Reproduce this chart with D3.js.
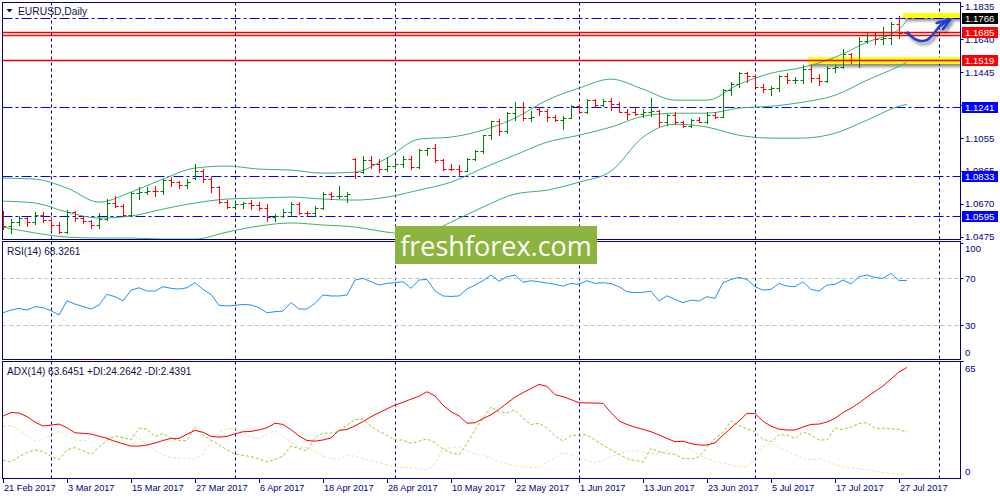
<!DOCTYPE html>
<html><head><meta charset="utf-8">
<script src="https://cdn.jsdelivr.net/npm/d3@7"></script>
<style>body{margin:0;background:#fff}svg{display:block}</style>
</head><body>
<svg id="c" width="1000" height="500"></svg>
<script>
// ---------- DATA ----------
const opens=[1.0615,1.0541,1.0559,1.0586,1.0560,1.0606,1.0575,1.0545,1.0505,1.0620,
1.0583,1.0567,1.0543,1.0582,1.0673,1.0654,1.0603,1.0733,1.0740,1.0745,
1.0742,1.0810,1.0797,1.0782,1.0820,1.0865,1.0815,1.0766,1.0677,1.0651,
1.0667,1.0671,1.0662,1.0645,1.0592,1.0598,1.0619,1.0667,1.0615,1.0612,
1.0644,1.0730,1.0716,1.0717,1.0935,1.0857,1.0929,1.0907,1.0872,1.0895,
1.0903,1.0931,1.0884,1.0985,1.0998,1.0925,1.0876,1.0872,1.0863,1.0933,
1.0982,1.1073,1.1158,1.1100,1.1206,1.1243,1.1176,1.1230,1.1215,1.1180,
1.1163,1.1178,1.1244,1.1213,1.1281,1.1253,1.1278,1.1258,1.1210,1.1210,
1.1198,1.1211,1.1216,1.1150,1.1196,1.1150,1.1131,1.1166,1.1151,1.1195,
1.1183,1.1338,1.1374,1.1442,1.1426,1.1359,1.1346,1.1350,1.1423,1.1400,
1.1402,1.1465,1.1414,1.1397,1.1471,1.1477,1.1556,1.1520,1.1632,1.1665,
1.1641,1.1646,1.1731,1.1678];
const highs=[1.0624,1.0578,1.0600,1.0590,1.0620,1.0618,1.0590,1.0560,1.0630,1.0627,
1.0595,1.0575,1.0615,1.0700,1.0715,1.0670,1.0740,1.0770,1.0770,1.0777,
1.0818,1.0825,1.0805,1.0818,1.0906,1.0875,1.0825,1.0775,1.0690,1.0680,
1.0680,1.0690,1.0680,1.0670,1.0610,1.0640,1.0678,1.0678,1.0625,1.0655,
1.0737,1.0737,1.0777,1.0738,1.0937,1.0950,1.0950,1.0935,1.0945,1.0920,
1.0950,1.0951,1.0990,1.1000,1.1023,1.0935,1.0905,1.0900,1.0940,1.0985,
1.1075,1.1160,1.1170,1.1213,1.1268,1.1268,1.1215,1.1238,1.1230,1.1195,
1.1188,1.1250,1.1255,1.1285,1.1285,1.1285,1.1296,1.1270,1.1230,1.1235,
1.1230,1.1296,1.1225,1.1200,1.1210,1.1160,1.1170,1.1180,1.1210,1.1210,
1.1345,1.1387,1.1445,1.1445,1.1430,1.1375,1.1365,1.1430,1.1440,1.1415,
1.1490,1.1490,1.1435,1.1480,1.1490,1.1583,1.1560,1.1655,1.1680,1.1680,
1.1710,1.1740,1.1777,1.1690];
const lows=[1.0522,1.0494,1.0545,1.0540,1.0550,1.0560,1.0520,1.0494,1.0494,1.0570,
1.0555,1.0525,1.0525,1.0575,1.0650,1.0600,1.0600,1.0700,1.0730,1.0715,
1.0725,1.0776,1.0763,1.0760,1.0815,1.0800,1.0740,1.0673,1.0642,1.0640,
1.0645,1.0640,1.0635,1.0570,1.0570,1.0590,1.0595,1.0610,1.0605,1.0600,
1.0640,1.0700,1.0705,1.0680,1.0822,1.0850,1.0880,1.0855,1.0860,1.0880,
1.0885,1.0875,1.0880,1.0960,1.0918,1.0870,1.0866,1.0838,1.0860,1.0925,
1.0970,1.1050,1.1076,1.1090,1.1166,1.1165,1.1160,1.1194,1.1160,1.1160,
1.1110,1.1175,1.1205,1.1205,1.1240,1.1245,1.1220,1.1210,1.1170,1.1195,
1.1180,1.1185,1.1130,1.1135,1.1140,1.1120,1.1120,1.1150,1.1148,1.1175,
1.1180,1.1314,1.1360,1.1390,1.1357,1.1330,1.1312,1.1335,1.1380,1.1380,
1.1380,1.1390,1.1370,1.1390,1.1450,1.1470,1.1500,1.1478,1.1620,1.1613,
1.1610,1.1610,1.1649,1.1670];
const closes=[1.0541,1.0559,1.0586,1.0560,1.0606,1.0575,1.0545,1.0505,1.0620,1.0583,
1.0567,1.0543,1.0582,1.0673,1.0654,1.0603,1.0733,1.0740,1.0745,1.0742,
1.0810,1.0797,1.0782,1.0797,1.0865,1.0815,1.0766,1.0677,1.0651,1.0667,
1.0671,1.0662,1.0645,1.0592,1.0598,1.0619,1.0667,1.0615,1.0612,1.0644,
1.0730,1.0716,1.0717,1.0725,1.0857,1.0929,1.0907,1.0872,1.0895,1.0903,
1.0931,1.0884,1.0985,1.0998,1.0925,1.0876,1.0872,1.0863,1.0933,1.0982,
1.1073,1.1158,1.1100,1.1206,1.1243,1.1176,1.1184,1.1215,1.1180,1.1163,
1.1178,1.1244,1.1213,1.1281,1.1253,1.1278,1.1258,1.1210,1.1197,1.1198,
1.1211,1.1216,1.1150,1.1196,1.1150,1.1131,1.1166,1.1151,1.1195,1.1183,
1.1338,1.1374,1.1442,1.1426,1.1359,1.1346,1.1350,1.1423,1.1400,1.1402,
1.1465,1.1414,1.1397,1.1471,1.1477,1.1556,1.1520,1.1632,1.1665,1.1641,
1.1646,1.1731,1.1678,1.1684];

// Bollinger bands read at sampled bars
const bbBars=[0,4,8,12,16,20,24,28,32,36,40,44,48,52,56,60,64,68,72,76,80,84,88,92,96,100,104,108,112,113];
const bbUpper=[1.0821,1.0815,1.0762,1.0679,1.0738,1.0815,1.0880,1.0892,1.0874,1.0868,1.0850,1.0856,1.0939,1.1051,1.1063,1.1104,1.1175,1.1281,1.1352,1.1405,1.1346,1.1281,1.1281,1.1375,1.1440,1.1475,1.1534,1.1623,1.1699,1.1752];
const bbMiddle=[1.0685,1.0674,1.0620,1.0585,1.0597,1.0638,1.0674,1.0697,1.0703,1.0709,1.0697,1.0691,1.0709,1.0750,1.0797,1.0880,1.0957,1.1033,1.1074,1.1122,1.1186,1.1204,1.1204,1.1234,1.1245,1.1269,1.1310,1.1399,1.1481,1.1505];
const bbLower=[1.0532,1.0497,1.0473,1.0467,1.0467,1.0461,1.0461,1.0502,1.0538,1.0556,1.0544,1.0532,1.0502,1.0485,1.0561,1.0650,1.0727,1.0750,1.0797,1.0862,1.1063,1.1139,1.1122,1.1074,1.1057,1.1057,1.1086,1.1163,1.1245,1.1257];

const rsi=[40.7,43.0,44.4,43.0,45.9,45.0,42.5,38.8,51.0,48.1,
46.0,43.9,47.3,56.4,54.4,50.7,60.0,62.0,59.2,59.2,
62.9,61.5,60.9,62.0,66.3,60.6,56.4,47.0,46.5,47.0,
47.8,47.3,45.0,40.7,41.6,42.2,49.5,43.9,43.9,48.7,
55.8,55.0,55.0,55.8,68.6,70.0,67.1,64.3,65.7,66.3,
67.1,61.5,68.6,69.1,59.2,55.0,54.6,55.0,61.0,64.3,
68.0,72.8,67.5,71.4,72.8,66.6,68.0,67.1,66.0,64.9,
63.4,65.7,64.9,68.0,65.7,66.3,65.5,62.9,58.6,57.8,
58.1,59.2,50.7,55.2,52.1,49.3,51.5,50.7,54.4,53.0,
66.3,69.1,70.8,69.1,62.9,60.0,60.6,65.7,63.4,62.9,
67.1,60.6,59.2,64.3,64.9,68.6,65.2,71.4,72.8,70.8,
70.0,74.2,68.0,68.3];
const adx=[35.8,37.8,37.5,35.5,32.3,30.1,30.6,31.2,29.1,26.2,
25.9,25.5,24.3,23.0,21.3,19.9,18.6,18.6,19.2,20.4,
21.8,23.0,23.0,25.4,27.6,26.5,24.2,23.7,24.2,25.6,
26.8,27.0,27.9,29.1,31.7,31.0,28.0,24.4,21.8,21.4,
22.1,23.3,27.6,28.1,30.2,32.6,35.4,37.7,39.9,42.1,
43.6,45.5,47.1,49.7,47.3,42.0,38.2,35.9,31.7,31.9,
34.3,36.5,39.6,43.2,46.6,49.2,51.5,53.9,52.8,48.0,
46.9,45.2,43.4,43.3,43.2,43.1,37.8,33.0,31.0,29.4,
28.2,26.8,25.0,23.0,21.1,21.4,20.0,19.2,19.2,20.5,
24.8,29.0,33.0,37.3,37.3,32.8,30.0,28.3,27.8,27.8,
29.5,31.0,31.2,32.4,34.5,37.8,40.3,43.2,46.7,49.9,
53.0,57.0,61.0,63.6];
const plusDI=[10.6,9.5,12.5,15.0,16.4,15.4,12.8,11.0,16.4,17.7,
16.0,13.9,17.9,22.0,24.4,23.5,22.1,28.8,28.4,24.0,
25.9,23.0,21.9,21.7,29.7,24.9,22.0,19.3,16.5,14.0,
13.3,12.6,11.3,9.5,11.0,12.9,18.6,17.3,15.8,23.5,
26.0,26.0,27.0,30.5,33.8,34.0,30.0,27.0,24.9,22.1,
22.1,20.2,21.4,22.7,20.6,17.0,14.7,13.7,20.0,28.0,
34.5,41.0,38.0,37.7,39.2,34.5,31.0,31.6,29.0,24.5,
21.5,24.5,25.0,25.0,22.1,19.2,16.5,13.9,11.5,10.3,
9.5,17.3,15.4,14.3,13.8,11.5,11.2,12.5,18.0,23.0,
26.5,33.0,30.5,28.5,26.8,22.5,21.1,25.0,25.0,23.0,
26.8,25.0,22.1,22.1,29.0,28.0,29.5,31.6,32.0,28.8,
28.8,28.5,28.2,26.5];
const minusDI=[29.7,30.5,27.8,24.5,21.5,22.5,25.0,27.0,24.5,22.1,
21.5,23.0,24.2,24.0,19.0,23.0,26.0,23.0,19.5,16.0,
13.5,12.0,11.8,11.4,11.2,14.0,21.0,26.8,28.5,28.8,
26.5,23.5,22.8,25.5,27.4,24.5,20.5,18.2,17.6,15.5,
13.0,11.5,11.0,13.5,12.8,11.5,10.2,9.0,8.0,6.4,
6.4,6.0,5.4,4.9,8.7,17.3,17.6,18.2,16.0,14.0,
13.5,12.0,9.5,8.5,7.5,6.8,6.4,6.3,9.3,12.0,
14.8,13.8,12.0,10.5,9.0,10.5,12.5,13.9,15.5,16.2,
15.0,14.0,14.5,15.8,14.5,18.6,16.8,13.5,11.5,9.7,
8.8,7.8,7.0,6.3,12.0,18.3,20.2,18.3,15.8,13.5,
11.5,10.6,11.6,9.7,8.0,7.0,6.2,5.7,5.0,4.3,
3.5,3.0,2.5,2.4];

const dateLabelBars=[0,8,16,24,32,40,48,56,64,72,80,88,96,104,112];
const dateLabels=["21 Feb 2017","3 Mar 2017","15 Mar 2017","27 Mar 2017","6 Apr 2017","18 Apr 2017","28 Apr 2017","10 May 2017","22 May 2017","1 Jun 2017","13 Jun 2017","23 Jun 2017","5 Jul 2017","17 Jul 2017","27 Jul 2017"];
const gridBars=[6,29,49,72,94,117];
const priceTicks=[1.1835,1.1640,1.1445,1.1250,1.1055,1.0865,1.0670,1.0475];
const priceTickLabels=["1.1835","1.1640","1.1445","1.1250","1.1055","1.0865","1.0670","1.0475"];
const blueLevels=[1.1766,1.1241,1.0833,1.0595];
const redLevels=[1.1685,1.1667,1.1519];
const redLabelLevels=[1.1685,1.1519];
const rsiTicks=[100,70,30,0];
const rsiLevels=[70,30];
const adxTicks=[65,0];
// highlighted zones [fromBar, priceLow, priceHigh]
const zones=[[112.5,1.1766,1.1795],[100.6,1.1495,1.1534]];
// hand-drawn arrow (bar, price)
const arrowPath=[[113.1,1.1678],[113.8,1.1648],[114.6,1.1631],[115.5,1.1636],[116.3,1.1672],[117.1,1.1718],[118.4,1.1757]];
const arrowHead=[[116.7,1.1737],[118.4,1.1757],[117.5,1.1700]];

// ---------- DRAW ----------
const svg=d3.select('#c');
const NAVY='#000080', FONT="'Liberation Sans',Arial,sans-serif";
const n=closes.length;
const L=2.5,R=960.5;
const P={main:[2.5,239.5],rsi:[241.5,359.5],adx:[361.5,478.5]};
const x=d3.scaleLinear().domain([0,113]).range([3,907]);
const y=d3.scaleLinear().domain([1.0475,1.1835]).range([236.7,6.3]);
const yR=d3.scaleLinear().domain([0,100]).range([360.6,243.1]);
const yA=d3.scaleLinear().domain([0,65]).range([478.6,365]);
const px=v=>Math.round(v)+0.5;

const defs=svg.append('defs');
Object.entries(P).forEach(([k,[t,b]])=>{
  defs.append('clipPath').attr('id','clip-'+k).append('rect').attr('x',L+0.5).attr('y',t+0.5).attr('width',R-L-1).attr('height',b-t-1);
});
const sh=defs.append('filter').attr('id','shadow').attr('x','-20%').attr('y','-50%').attr('width','150%').attr('height','250%');
sh.append('feGaussianBlur').attr('in','SourceAlpha').attr('stdDeviation',1.5).attr('result','b');
sh.append('feOffset').attr('in','b').attr('dx',2).attr('dy',3).attr('result','o');
sh.append('feComponentTransfer').attr('in','o').attr('result','s').append('feFuncA').attr('type','linear').attr('slope',0.45);
const fm=sh.append('feMerge'); fm.append('feMergeNode').attr('in','s'); fm.append('feMergeNode').attr('in','SourceGraphic');

svg.append('rect').attr('width',1000).attr('height',500).attr('fill','#fff');

// vertical grid
Object.values(P).forEach(([t,b])=>{
  svg.append('g').selectAll('line').data(gridBars).join('line')
    .attr('x1',d=>px(x(d))).attr('x2',d=>px(x(d))).attr('y1',t).attr('y2',b)
    .attr('stroke',NAVY).attr('stroke-width',1).attr('stroke-dasharray','3,3');
});

// ---- MAIN PANEL ----
const gM=svg.append('g').attr('clip-path','url(#clip-main)');
// zones (yellow)
zones.forEach(([b0,p0,p1])=>{
  gM.append('rect').attr('x',x(b0)).attr('y',y(p1)).attr('width',R-x(b0)).attr('height',y(p0)-y(p1))
    .attr('fill','#ffff00').attr('filter','url(#shadow)');
});
// blue dash-dot levels
gM.selectAll('.bl').data(blueLevels).join('line')
  .attr('x1',L).attr('x2',R).attr('y1',d=>px(y(d))).attr('y2',d=>px(y(d)))
  .attr('stroke','#0000ff').attr('stroke-width',1).attr('stroke-dasharray','10,3,3,3');
// bollinger
const bbLine=arr=>d3.line().x((d,i)=>x(bbBars[i])).y(d=>y(d)).curve(d3.curveMonotoneX)(arr);
[bbUpper,bbMiddle,bbLower].forEach(a=>gM.append('path').attr('d',bbLine(a)).attr('fill','none').attr('stroke','#3cb371').attr('stroke-width',1));
// bars
const gB=gM.append('g');
d3.range(n).forEach(i=>{
  const c=closes[i]>=opens[i]?'#008000':'#ff0000';
  const xi=px(x(i));
  gB.append('line').attr('x1',xi).attr('x2',xi).attr('y1',Math.round(y(highs[i]))).attr('y2',Math.round(y(lows[i]))+1).attr('stroke',c);
  gB.append('line').attr('x1',xi-3).attr('x2',xi).attr('y1',px(y(opens[i]))).attr('y2',px(y(opens[i]))).attr('stroke',c);
  gB.append('line').attr('x1',xi).attr('x2',xi+3).attr('y1',px(y(closes[i]))).attr('y2',px(y(closes[i]))).attr('stroke',c);
});
// red levels
gM.selectAll('.rl').data(redLevels).join('line')
  .attr('x1',L).attr('x2',R).attr('y1',d=>px(y(d))).attr('y2',d=>px(y(d)))
  .attr('stroke','#ff0000').attr('stroke-width',1.3);
// arrow
const al=d3.line().x(d=>x(d[0])).y(d=>y(d[1]));
const ga=svg.append('g').attr('filter','url(#shadow)');
ga.append('path').attr('d',al.curve(d3.curveCatmullRom)(arrowPath)).attr('fill','none').attr('stroke','#1f3fd8').attr('stroke-width',2.6).attr('stroke-linecap','round');
ga.append('path').attr('d',d3.line().x(d=>x(d[0])).y(d=>y(d[1]))(arrowHead)).attr('fill','none').attr('stroke','#1f3fd8').attr('stroke-width',2.6).attr('stroke-linecap','round').attr('stroke-linejoin','round');

// title
svg.append('path').attr('d','M6.5,9 L12.5,9 L9.5,12.5 Z').attr('fill',NAVY);
svg.append('text').attr('x',18).attr('y',14.5).text('EURUSD,Daily').attr('font-family',FONT).attr('font-size',10.3).attr('fill','#10104a');

// ---- RSI PANEL ----
const gR=svg.append('g').attr('clip-path','url(#clip-rsi)');
gR.selectAll('line').data(rsiLevels).join('line').attr('x1',L).attr('x2',R)
  .attr('y1',d=>px(yR(d))).attr('y2',d=>px(yR(d))).attr('stroke','#c0c0c0').attr('stroke-dasharray','4,3');
gR.append('path').attr('d',d3.line().x((d,i)=>x(i)).y(d=>yR(d))(rsi)).attr('fill','none').attr('stroke','#1e90ff').attr('stroke-width',1);
svg.append('text').attr('x',7).attr('y',255).text('RSI(14) 68.3261').attr('font-family',FONT).attr('font-size',10).attr('fill','#10104a');

// ---- ADX PANEL ----
const gA=svg.append('g').attr('clip-path','url(#clip-adx)');
gA.append('path').attr('d',d3.line().x((d,i)=>x(i)).y(d=>yA(d))(minusDI)).attr('fill','none').attr('stroke','#f5deb3').attr('stroke-width',1).attr('stroke-dasharray','3,2');
gA.append('path').attr('d',d3.line().x((d,i)=>x(i)).y(d=>yA(d))(plusDI)).attr('fill','none').attr('stroke','#9acd32').attr('stroke-width',1).attr('stroke-dasharray','3,2');
gA.append('path').attr('d',d3.line().x((d,i)=>x(i)).y(d=>yA(d))(adx)).attr('fill','none').attr('stroke','#ff0000').attr('stroke-width',1);
svg.append('text').attr('x',7).attr('y',375).text('ADX(14) 63.6451 +DI:24.2642 -DI:2.4391').attr('font-family',FONT).attr('font-size',10).attr('fill','#10104a');

// frames
Object.values(P).forEach(([t,b])=>{
  svg.append('rect').attr('x',L).attr('y',t).attr('width',R-L).attr('height',b-t).attr('fill','none').attr('stroke',NAVY);
});

// price axis
const gPA=svg.append('g').attr('font-family',FONT).attr('font-size',9.6).attr('fill',NAVY);
priceTicks.forEach((v,i)=>{
  gPA.append('line').attr('x1',R).attr('x2',R+3).attr('y1',px(y(v))).attr('y2',px(y(v))).attr('stroke',NAVY);
  gPA.append('text').attr('x',965).attr('y',y(v)+3.4).text(priceTickLabels[i]);
});
// sub axes
const clampY=(v,t,b)=>Math.max(t+7,Math.min(b-7,v));
rsiTicks.forEach(v=>{
  gPA.append('line').attr('x1',R).attr('x2',R+3).attr('y1',px(yR(v))).attr('y2',px(yR(v))).attr('stroke',NAVY);
  gPA.append('text').attr('x',965).attr('y',clampY(yR(v),P.rsi[0],P.rsi[1])+3.4).text(v);
});
adxTicks.forEach(v=>{
  gPA.append('text').attr('x',965).attr('y',clampY(yA(v),P.adx[0],P.adx[1])+3.4).text(v);
});

// price labels (boxes)
const boxes=[...blueLevels.map(v=>({v,c:'#0000ff'})),...redLabelLevels.map(v=>({v,c:'#ff0000'}))];
boxes.forEach(b=>{
  const yy=Math.round(y(b.v));
  const fill=(b.v===blueLevels[0])?'#000000':b.c;
  svg.append('rect').attr('x',962).attr('y',yy-5).attr('width',36).attr('height',11).attr('fill',fill);
  svg.append('text').attr('x',965).attr('y',yy+3.6).text(b.v.toFixed(4)).attr('font-family',FONT).attr('font-size',9.6).attr('fill','#fff');
});

// date axis
const gD=svg.append('g').attr('font-family',FONT).attr('font-size',9.2).attr('fill',NAVY);
dateLabelBars.forEach((b,i)=>{
  gD.append('line').attr('x1',px(x(b))).attr('x2',px(x(b))).attr('y1',478.5).attr('y2',483).attr('stroke',NAVY);
  gD.append('text').attr('x',x(b)+1).attr('y',491).text(dateLabels[i]);
});

// watermark
svg.append('rect').attr('x',395).attr('y',226).attr('width',202).attr('height',38).attr('fill','#8cb43e');
svg.append('text').attr('x',496).attr('y',256).attr('text-anchor','middle').text('freshforex.com')
  .attr('font-family',"'Open Sans',sans-serif").attr('font-size',27).attr('fill','#fff');
</script>
</body></html>
